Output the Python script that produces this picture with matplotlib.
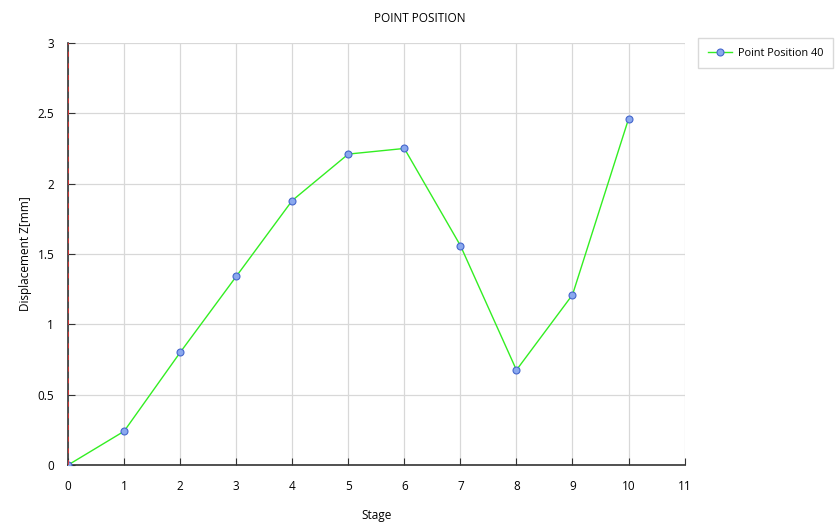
import matplotlib
matplotlib.use("Agg")
import matplotlib.pyplot as plt

# ── Data ──────────────────────────────────────────────────────────────────────
stages = [0, 1, 2, 3, 4, 5, 6, 7, 8, 9, 10]
disp_z = [0.0, 0.24, 0.80, 1.34, 1.88, 2.21, 2.25, 1.56, 0.675, 1.21, 2.46]
x_ticks = list(range(0, 12))
y_ticks = [0, 0.5, 1, 1.5, 2, 2.5, 3]
y_labels = ["0", "0.5", "1", "1.5", "2", "2.5", "3"]

plt.rcParams["font.family"] = ["Open Sans", "DejaVu Sans"]

fig = plt.figure(figsize=(8.4, 5.3), dpi=100)
ax = fig.add_axes([0.081, 0.1226, 0.734, 0.7964])

ax.plot(stages, disp_z, color="#33ee22", linewidth=1, marker="o", markersize=5,
        markerfacecolor="#8aa8ee", markeredgecolor="#4466cc", markeredgewidth=0.8,
        label="Point Position 40", zorder=3)

# red dashed reference line at stage 0
ax.axvline(0, color="#e03030", linestyle=(0, (3, 4)), linewidth=1.2, zorder=4)

ax.set_xlim(0, 11)
ax.set_ylim(0, 3)
ax.set_xticks(x_ticks)
ax.set_yticks(y_ticks)
ax.set_yticklabels(y_labels)
ax.tick_params(direction="in", length=5, color="#333333", labelsize=8.5)
ax.tick_params(axis="x", pad=11)
ax.tick_params(axis="y", pad=10)
ax.grid(color="#d8d8d8", linewidth=0.9)
ax.set_axisbelow(True)

for s in ["top", "right"]:
    ax.spines[s].set_visible(False)
for s in ["left", "bottom"]:
    ax.spines[s].set_color("#333333")
    ax.spines[s].set_linewidth(1.2)

ax.set_xlabel("Stage", fontsize=8.5, labelpad=11)
ax.set_ylabel("Displacement Z[mm]", fontsize=8.5, labelpad=4)
fig.text(0.5, 0.965, "POINT POSITION", ha="center", va="center", fontsize=8.5)

leg = ax.legend(loc="upper left", bbox_to_anchor=(1.013, 1.025), fontsize=7.8,
                frameon=True, fancybox=False, edgecolor="#d0d0d0",
                handlelength=2.2, handletextpad=0.6, borderpad=0.9)
leg.get_frame().set_linewidth(1)

plt.savefig("out.png", dpi=100)
